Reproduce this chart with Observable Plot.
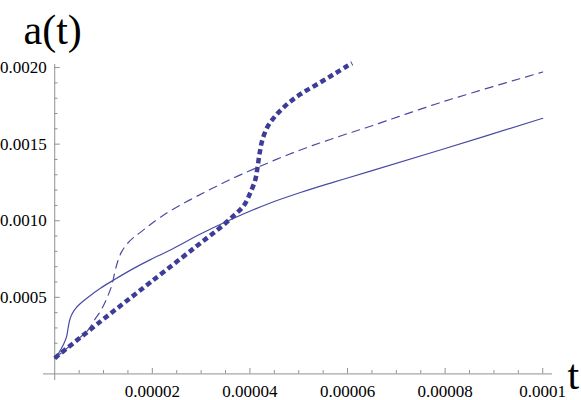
<!DOCTYPE html>
<html>
<head>
<meta charset="utf-8">
<script src="https://cdn.jsdelivr.net/npm/d3@7"></script>
<script src="https://cdn.jsdelivr.net/npm/@observablehq/plot@0.6"></script>
<style>
  html, body { margin: 0; padding: 0; background: #fff; }
  #chart { width: 581px; height: 400px; }
</style>
</head>
<body>
<div id="chart"></div>
<script>
// ---- data: t in units of 1e-5, a in units of 1e-4 (converted below) ----
const solidT = [0, 0.076, 0.184, 0.240, 0.275, 0.310, 0.360, 0.430, 0.520, 0.664, 0.936, 1.209, 1.619, 1.961, 2.371, 2.986, 3.668, 4.352, 5.035, 5.717, 6.47, 7.90, 10.0];
const solidA = [1.03, 1.33, 1.95, 2.40, 3.00, 3.55, 3.95, 4.28, 4.58, 4.96, 5.59, 6.13, 6.89, 7.46, 8.09, 9.13, 10.16, 11.08, 11.84, 12.52, 13.24, 14.62, 16.69];

const dashT = [0, 0.527, 0.691, 0.799, 0.936, 1.074, 1.176, 1.234, 1.295, 1.367, 1.470, 1.613, 1.756, 1.961, 2.371, 3.053, 3.668, 4.148, 4.693, 5.240, 5.854, 6.47, 7.90, 10.0];
const dashA = [1.03, 2.40, 2.89, 3.45, 4.09, 4.98, 5.86, 6.68, 7.39, 7.95, 8.44, 8.90, 9.24, 9.76, 10.65, 11.83, 12.80, 13.47, 14.20, 14.86, 15.53, 16.17, 17.71, 19.71];

const dotT = [0, 0.936, 1.961, 3.123, 3.395, 3.668, 3.873, 4.010, 4.113, 4.160, 4.201, 4.250, 4.352, 4.522, 4.762, 5.035, 5.377, 5.717, 5.992, 6.094];
const dotA = [1.03, 3.42, 5.98, 8.88, 9.56, 10.33, 10.98, 11.84, 12.72, 13.59, 14.45, 15.21, 16.08, 16.84, 17.61, 18.26, 18.91, 19.56, 20.10, 20.28];

// ---- ticks ----
const xMajor = [0.00002, 0.00004, 0.00006, 0.00008, 0.0001];
const xLabels = ["0.00002", "0.00004", "0.00006", "0.00008", "0.0001"];
const xMinorStep = 0.000005;
const yMajor = [0.0005, 0.0010, 0.0015, 0.0020];
const yLabels = ["0.0005", "0.0010", "0.0015", "0.0020"];
const yMinorStep = 0.0001;

const xMinor = d3.range(1, 21).map(i => i * xMinorStep).filter(v => Math.abs(v / 0.00002 - Math.round(v / 0.00002)) > 1e-6);
const yMinor = d3.range(1, 21).map(i => i * yMinorStep).filter(v => Math.abs(v / 0.0005 - Math.round(v / 0.0005)) > 1e-6);

// ---- layout ----
const W = 581, H = 400;
const mL = 43, mR = 29, mT = 64, mB = 20;
const xDom = [-2.3e-6, 1.02e-4];
const yDom = [-4.3e-5, 2.02e-3];
const xpp = (xDom[1] - xDom[0]) / (W - mL - mR); // data units per px
const ypp = (yDom[1] - yDom[0]) / (H - mT - mB);

const toRows = (T, A) => T.map((t, i) => ({t: t * 1e-5, a: A[i] * 1e-4}));
const color = "#3d3d99";
const thinColor = "#4a4aa2";
const axisColor = "#909090";
const serif = "'Liberation Serif', 'DejaVu Serif', serif";

const chart = Plot.plot({
  width: W, height: H,
  marginLeft: mL, marginRight: mR, marginTop: mT, marginBottom: mB,
  x: {domain: xDom, axis: null},
  y: {domain: yDom, axis: null},
  style: {fontFamily: serif, background: "#fff", color: "#000"},
  marks: [
    // axes
    Plot.ruleY([0], {stroke: axisColor, strokeWidth: 1}),
    Plot.ruleX([0], {stroke: axisColor, strokeWidth: 1}),
    Plot.ruleX(xMajor, {x: d => d, y1: 0, y2: 5.5 * ypp, stroke: axisColor}),
    Plot.ruleX(xMinor, {x: d => d, y1: 0, y2: 3.3 * ypp, stroke: axisColor}),
    Plot.ruleY(yMajor, {y: d => d, x1: 0, x2: 5.5 * xpp, stroke: axisColor}),
    Plot.ruleY(yMinor, {y: d => d, x1: 0, x2: 3.3 * xpp, stroke: axisColor}),
    Plot.text(xMajor.map((v, i) => ({v, s: xLabels[i]})), {
      x: "v", y: 0, text: "s", dy: 18, fontSize: 17, fill: "#000", lineAnchor: "middle", textAnchor: "middle"
    }),
    Plot.text(yMajor.map((v, i) => ({v, s: yLabels[i]})), {
      x: 0, y: "v", text: "s", dx: -8, fontSize: 17, fill: "#000", lineAnchor: "middle", textAnchor: "end"
    }),
    Plot.text(["a(t)"], {text: d => d, frameAnchor: "top-left", dx: -20, dy: -21, textAnchor: "start", lineAnchor: "bottom", fontSize: 42, fill: "#000"}),
    Plot.text(["t"], {text: d => d, frameAnchor: "bottom-right", dx: 15, dy: 8, textAnchor: "start", lineAnchor: "bottom", fontSize: 42, fill: "#000"}),
    // curves
    Plot.line(toRows(solidT, solidA), {x: "t", y: "a", stroke: thinColor, strokeWidth: 1.2, curve: "catmull-rom"}),
    Plot.line(toRows(dashT, dashA), {x: "t", y: "a", stroke: thinColor, strokeWidth: 1.2, strokeDasharray: "8,6", curve: "catmull-rom"}),
    Plot.line(toRows(dotT, dotA), {x: "t", y: "a", stroke: color, strokeWidth: 4.5, strokeDasharray: "5.5,3.5", strokeLinecap: "butt", curve: "catmull-rom"})
  ]
});
document.getElementById("chart").appendChild(chart);
</script>
</body>
</html>
